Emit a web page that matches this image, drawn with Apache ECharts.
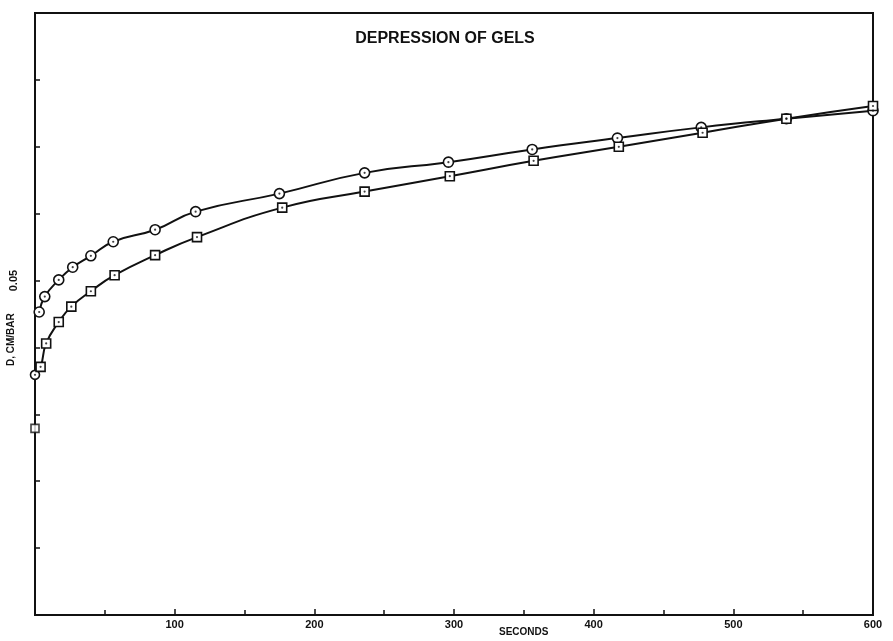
<!DOCTYPE html>
<html>
<head>
<meta charset="utf-8">
<script src="https://cdn.jsdelivr.net/npm/echarts@6/dist/echarts.min.js"></script>
<style>
html,body{margin:0;padding:0;background:#fff;}
#chart{width:893px;height:641px;}
</style>
</head>
<body>
<div id="chart"></div>
<script>
// Upper curve (circle markers)
const circleX = [3, 7, 17, 27, 40, 56, 86, 115, 175, 236, 296, 356, 417, 477, 538, 600];
const circleY = [0.0453, 0.0476, 0.0501, 0.0520, 0.0537, 0.0558, 0.0576, 0.0603, 0.0630, 0.0661, 0.0677, 0.0696, 0.0713, 0.0729, 0.0742, 0.0754];
// Lower curve (square markers); first point sits on the axis
const squareX = [0, 4, 8, 17, 26, 40, 57, 86, 116, 177, 236, 297, 357, 418, 478, 538, 600];
const squareY = [0.0359, 0.0371, 0.0406, 0.0438, 0.0461, 0.0484, 0.0508, 0.0538, 0.0565, 0.0609, 0.0633, 0.0656, 0.0679, 0.0700, 0.0721, 0.0742, 0.0761];
// Isolated point on the axis
const loneX = [0];
const loneY = [0.0279];
// Tick labels
const xTickLabels = ['100', '200', '300', '400', '500', '600'];
const yTickLabels = ['0.05'];

const FONT = 'Liberation Sans';
const pair = (xs, ys) => xs.map((x, i) => [x, ys[i]]);

const squareData = pair(squareX, squareY).map((p, i) => i === 0 ? {value: p, symbol: 'circle', symbolSize: 9} : p);

const chart = echarts.init(document.getElementById('chart'), null, {renderer: 'canvas'});
chart.setOption({
  backgroundColor: '#fff',
  animation: false,
  title: {
    text: 'DEPRESSION OF GELS',
    left: 440, top: 26, textAlign: 'center',
    textStyle: {fontFamily: FONT, fontSize: 16, fontWeight: 'bold', color: '#111'}
  },
  grid: {left: 35, right: 20, top: 13, bottom: 26, show: true, borderColor: '#111', borderWidth: 2, backgroundColor: 'transparent'},
  xAxis: {
    type: 'value', min: 0, max: 600, interval: 100,
    axisLine: {show: true, lineStyle: {color: '#111', width: 2}},
    axisTick: {show: true, inside: true, length: 6, lineStyle: {color: '#111', width: 1.5}},
    minorTick: {show: true, splitNumber: 2, length: 5, lineStyle: {color: '#111', width: 1.5}},
    splitLine: {show: false},
    axisLabel: {
      margin: 4, color: '#111', fontFamily: FONT, fontSize: 11, fontWeight: 'bold',
      formatter: v => xTickLabels.includes(String(v)) ? String(v) : ''
    }
  },
  yAxis: {
    type: 'value', min: 0, max: 0.09, interval: 0.01,
    axisLine: {show: true, lineStyle: {color: '#111', width: 2}},
    axisTick: {show: true, inside: true, length: 5, lineStyle: {color: '#111', width: 1.5}},
    splitLine: {show: false},
    axisLabel: {
      rotate: 90, margin: 16, color: '#111', fontFamily: FONT, fontSize: 11, fontWeight: 'bold',
      formatter: v => { const s = v.toFixed(2); return yTickLabels.includes(s) ? s : ''; }
    }
  },
  graphic: [
    {type: 'text', left: 499, top: 627, style: {text: 'SECONDS', fontFamily: FONT, fontSize: 10, fontWeight: 'bold', fill: '#111'}},
    {type: 'text', x: 6, y: 366, rotation: Math.PI / 2, style: {text: 'D, CM/BAR', fontFamily: FONT, fontSize: 10, fontWeight: 'bold', fill: '#111', align: 'left', verticalAlign: 'top'}}
  ],
  series: [
    {
      type: 'line', data: pair(circleX, circleY), smooth: 0.5,
      symbol: 'circle', symbolSize: 10, showSymbol: true,
      lineStyle: {color: '#111', width: 2},
      itemStyle: {color: '#fff', borderColor: '#111', borderWidth: 1.6},
      z: 3
    },
    {
      type: 'line', data: squareData, smooth: 0.5,
      symbol: 'rect', symbolSize: 9, showSymbol: true,
      lineStyle: {color: '#111', width: 2},
      itemStyle: {color: '#fff', borderColor: '#111', borderWidth: 1.6},
      z: 3
    },
    {
      type: 'scatter', data: pair(loneX, loneY),
      symbol: 'rect', symbolSize: 8,
      itemStyle: {color: '#fff', borderColor: '#111', borderWidth: 1.6},
      z: 3
    },
    {
      type: 'scatter', data: pair(circleX, circleY).concat(pair(squareX, squareY)),
      symbol: 'circle', symbolSize: 2.2,
      itemStyle: {color: '#111'}, z: 5, silent: true
    }
  ]
});
</script>
</body>
</html>
